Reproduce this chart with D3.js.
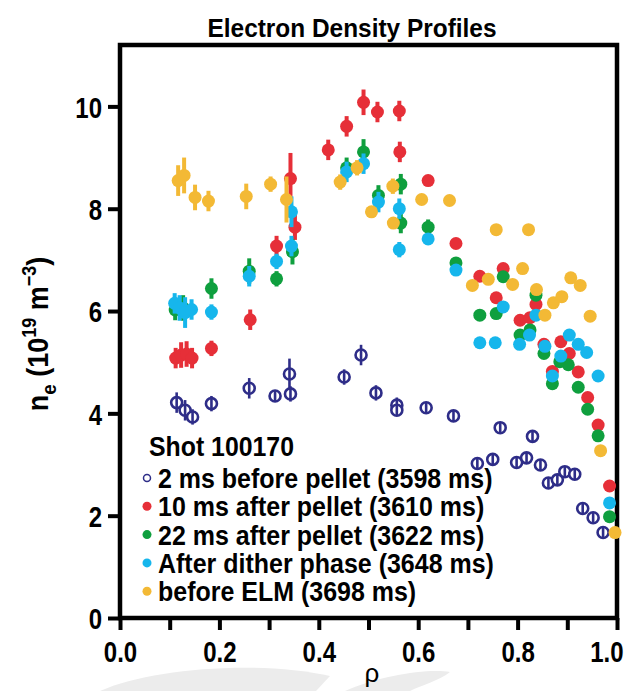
<!DOCTYPE html>
<html>
<head>
<meta charset="utf-8">
<script src="https://cdn.jsdelivr.net/npm/d3@7"></script>
<style>
  body { margin: 0; background: #fff; }
  svg { display: block; }
  text { font-family: "Liberation Sans", Arial, sans-serif; font-weight: bold; }
</style>
</head>
<body>
<script>
// [rho, ne, half error]
var before2ms = [[0.114,4.21,0.2],[0.131,4.06,0.2],[0.146,3.93,0.15],[0.184,4.19,0.15],[0.26,4.49,0.2],[0.312,4.34,0.1],[0.341,4.77,0.3],[0.343,4.38,0.15],[0.451,4.71,0.15],[0.485,5.14,0.2],[0.515,4.40,0.15],[0.557,4.16,0.15],[0.557,4.06,0.1],[0.616,4.11,0.1],[0.671,3.95,0.1],[0.719,3.02,0.1],[0.750,3.10,0.1],[0.765,3.72,0.1],[0.798,3.04,0.1],[0.818,3.13,0.1],[0.830,3.55,0.1],[0.846,2.99,0.1],[0.862,2.64,0.1],[0.880,2.70,0.1],[0.895,2.86,0.1],[0.915,2.81,0.1],[0.931,2.14,0.1],[0.952,1.96,0.1],[0.972,1.67,0.1]];
var after10ms = [[0.112,5.08,0.2],[0.123,5.14,0.25],[0.134,5.16,0.25],[0.145,5.08,0.2],[0.184,5.27,0.15],[0.262,5.83,0.2],[0.315,7.27,0.2],[0.343,8.59,0.5],[0.352,7.64,0.25],[0.419,9.15,0.2],[0.456,9.61,0.2],[0.490,10.08,0.25],[0.518,9.89,0.2],[0.562,9.91,0.2],[0.563,9.11,0.2],[0.620,8.55,0.1],[0.676,7.32,0.1],[0.724,6.68,0.05],[0.757,6.26,0.05],[0.771,6.83,0.05],[0.805,5.82,0],[0.825,5.87,0],[0.837,6.13,0],[0.853,5.35,0],[0.870,4.82,0],[0.887,5.40,0],[0.904,5.17,0],[0.922,4.81,0],[0.941,4.31,0],[0.962,3.77,0],[0.985,2.58,0]];
var after22ms = [[0.111,6.02,0.2],[0.127,6.06,0.25],[0.184,6.44,0.2],[0.26,6.78,0.25],[0.315,6.63,0.15],[0.347,7.16,0.25],[0.456,8.80,0.2],[0.490,9.11,0.25],[0.520,8.26,0.2],[0.565,8.48,0.2],[0.565,7.72,0.2],[0.620,7.64,0.15],[0.676,6.94,0.1],[0.724,5.92,0],[0.757,5.95,0.05],[0.771,6.67,0.1],[0.805,5.53,0],[0.825,5.63,0.05],[0.837,6.31,0.1],[0.853,5.17,0],[0.870,4.58,0],[0.885,5.01,0],[0.902,4.95,0],[0.922,4.51,0],[0.941,4.08,0],[0.962,3.56,0],[0.985,1.98,0]];
var afterDither = [[0.110,6.15,0.2],[0.120,6.06,0.25],[0.131,5.97,0.3],[0.144,6.03,0.2],[0.184,5.98,0.15],[0.26,6.68,0.2],[0.315,6.97,0.15],[0.345,7.27,0.2],[0.345,7.94,0.3],[0.456,8.72,0.2],[0.490,8.88,0.2],[0.520,8.13,0.2],[0.562,8.00,0.2],[0.562,7.20,0.15],[0.620,7.41,0.1],[0.676,6.80,0.1],[0.724,5.38,0],[0.755,5.38,0],[0.771,6.08,0],[0.804,5.35,0],[0.824,5.53,0],[0.837,5.92,0],[0.855,5.31,0],[0.870,4.73,0],[0.887,5.12,0],[0.904,5.53,0],[0.922,5.35,0],[0.939,5.19,0],[0.962,4.73,0],[0.985,2.25,0]];
var beforeELM = [[0.117,8.55,0.3],[0.129,8.65,0.35],[0.151,8.22,0.25],[0.178,8.15,0.2],[0.254,8.24,0.25],[0.303,8.48,0.15],[0.335,8.18,0.45],[0.443,8.52,0.15],[0.477,8.80,0.15],[0.506,7.94,0.1],[0.549,8.44,0.15],[0.550,7.72,0.1],[0.607,8.18,0.05],[0.663,8.16,0.05],[0.709,6.50,0],[0.741,6.62,0],[0.757,7.59,0],[0.790,6.52,0],[0.810,6.83,0],[0.822,7.59,0],[0.838,6.42,0],[0.855,5.92,0],[0.872,6.16,0],[0.889,6.28,0],[0.907,6.65,0],[0.926,6.50,0],[0.946,5.90,0],[0.967,3.27,0],[0.996,1.67,0]];

var seriesNames = ["2 ms before pellet (3598 ms)", "10 ms after pellet (3610 ms)", "22 ms after pellet (3622 ms)", "After dither phase (3648 ms)", "before ELM (3698 ms)"];
var seriesColors = ["#2e2d88", "#e62f38", "#0f9f3e", "#16b6ec", "#f3b935"];
var seriesData = [before2ms, after10ms, after22ms, afterDither, beforeELM];
var xTicks = [0, 0.1, 0.2, 0.3, 0.4, 0.5, 0.6, 0.7, 0.8, 0.9, 1.0];
var yTicks = [0, 2, 4, 6, 8, 10];

var w = 630,
    h = 691;

var margin = { top: 45, right: 13, bottom: 73, left: 120 },
    width = w - margin.left - margin.right,
    height = h - margin.top - margin.bottom;

// squeeze text horizontally, the original uses a condensed face
function condense(sel, f) {
    sel.each(function () {
        var l = this.getComputedTextLength();
        d3.select(this)
            .attr("textLength", l * f)
            .attr("lengthAdjust", "spacingAndGlyphs");
    });
}

var root = d3.select("body")
    .append("svg")
    .attr("width", w)
    .attr("height", h);

// faint grey swoosh at the bottom of the page
root.append("path")
    .attr("d", "M100,691 C150,668 260,660 330,676 L316,691 Z")
    .attr("fill", "#ececec");
root.append("path")
    .attr("d", "M345,691 C380,675 430,668 450,672 C440,680 420,686 410,691 Z")
    .attr("fill", "#ececec");

var svg = root.append("g")
    .attr("transform", "translate(" + margin.left + "," + margin.top + ")");

var x = d3.scaleLinear().domain([0, 1]).range([0, width]);
var y = d3.scaleLinear().domain([0, 11.2]).range([height, 0]);

// axes
var xaxis = svg.append("g")
    .attr("transform", "translate(0," + height + ")")
    .call(d3.axisBottom(x).tickValues(xTicks).tickSize(12).tickPadding(11)
        .tickFormat(function (d, i) { return i % 2 == 0 ? d3.format(".1f")(d) : ""; }));
var yaxis = svg.append("g")
    .call(d3.axisLeft(y).tickValues(yTicks).tickSize(12).tickPadding(6).tickFormat(d3.format("d")));

[xaxis, yaxis].forEach(function (a) {
    a.select(".domain").remove();
    a.selectAll(".tick line").attr("stroke", "#000").attr("stroke-width", 4);
    a.selectAll(".tick text").attr("fill", "#000").style("font-size", "30px");
});
xaxis.selectAll(".tick text").attr("dy", "0.71em");
yaxis.selectAll(".tick text").attr("dy", "0.36em");
condense(xaxis.selectAll(".tick text"), 0.8);
condense(yaxis.selectAll(".tick text"), 0.8);
// last label sits right at the page edge
xaxis.selectAll(".tick text").filter(function (d) { return d == 1; })
    .attr("text-anchor", "end")
    .attr("x", 6);

// frame
svg.append("rect")
    .attr("x", 0).attr("y", 0)
    .attr("width", width).attr("height", height)
    .attr("fill", "none")
    .attr("stroke", "#000")
    .attr("stroke-width", 4.5);

// points, drawn back to front
seriesData.forEach(function (data, s) {
    var g = svg.append("g");
    var pts = g.selectAll("g").data(data).enter().append("g");
    if (s == 0) {
        pts.append("circle")
            .attr("cx", function (d) { return x(d[0]); })
            .attr("cy", function (d) { return y(d[1]); })
            .attr("r", 5.5)
            .attr("fill", "#fff")
            .attr("stroke", seriesColors[s])
            .attr("stroke-width", 2.6);
        pts.append("line")
            .attr("x1", function (d) { return x(d[0]); })
            .attr("x2", function (d) { return x(d[0]); })
            .attr("y1", function (d) { return y(d[1] + Math.max(d[2], 0.09)); })
            .attr("y2", function (d) { return y(d[1] - Math.max(d[2], 0.09)); })
            .attr("stroke", seriesColors[s])
            .attr("stroke-width", 2.6);
    } else {
        pts.append("line")
            .attr("x1", function (d) { return x(d[0]); })
            .attr("x2", function (d) { return x(d[0]); })
            .attr("y1", function (d) { return y(d[1] + d[2]); })
            .attr("y2", function (d) { return y(d[1] - d[2]); })
            .attr("stroke", seriesColors[s])
            .attr("stroke-width", 4);
        pts.append("circle")
            .attr("cx", function (d) { return x(d[0]); })
            .attr("cy", function (d) { return y(d[1]); })
            .attr("r", 6.5)
            .attr("fill", seriesColors[s]);
    }
});

// title
root.append("text")
    .attr("x", 352)
    .attr("y", 37)
    .attr("text-anchor", "middle")
    .style("font-size", "26px")
    .text("Electron Density Profiles")
    .attr("textLength", 289)
    .attr("lengthAdjust", "spacingAndGlyphs");

// x label
root.append("text")
    .attr("x", 372)
    .attr("y", 682)
    .attr("text-anchor", "middle")
    .style("font-weight", "normal")
    .style("font-size", "26px")
    .text("ρ");

// y label
var ylab = root.append("text")
    .attr("transform", "translate(48,334) rotate(-90) scale(0.9,1)")
    .attr("text-anchor", "middle")
    .style("font-size", "30px");
ylab.append("tspan").text("n");
ylab.append("tspan").attr("dy", 8).style("font-size", "21px").text("e");
ylab.append("tspan").attr("dy", -8).text(" (10");
ylab.append("tspan").attr("dy", -12).style("font-size", "20px").text("19");
ylab.append("tspan").attr("dy", 12).text(" m");
ylab.append("tspan").attr("dy", -12).style("font-size", "20px").text("\u22123");
ylab.append("tspan").attr("dy", 12).text(")");

// legend
var legend = root.append("g").attr("transform", "translate(149,456)");
legend.append("text")
    .attr("x", 0).attr("y", 0)
    .style("font-size", "27px")
    .text("Shot 100170")
    .call(condense, 0.92);
var rows = legend.selectAll(".row").data(seriesNames).enter().append("g")
    .attr("class", "row")
    .attr("transform", function (d, i) { return "translate(0," + (22 + i * 28.3) + ")"; });
rows.append("circle")
    .attr("cx", -2)
    .attr("cy", 0)
    .attr("r", function (d, i) { return i == 0 ? 3.5 : 4.5; })
    .attr("fill", function (d, i) { return i == 0 ? "#fff" : seriesColors[i]; })
    .attr("stroke", function (d, i) { return i == 0 ? seriesColors[0] : "none"; })
    .attr("stroke-width", 1.5);
rows.append("text")
    .attr("x", 9)
    .attr("y", 10)
    .style("font-size", "27px")
    .text(function (d) { return d; })
    .call(condense, 0.925);
</script>
</body>
</html>
